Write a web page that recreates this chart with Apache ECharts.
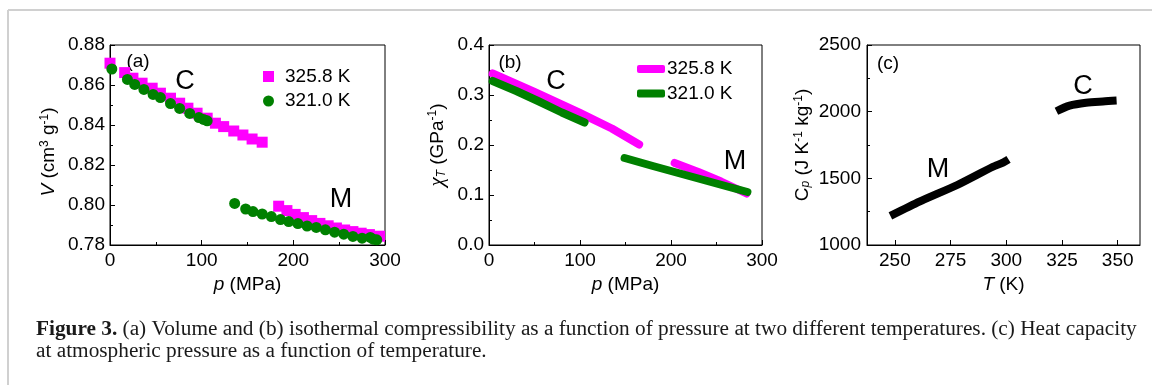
<!DOCTYPE html>
<html><head><meta charset="utf-8">
<script src="https://cdn.jsdelivr.net/npm/echarts@6/dist/echarts.min.js"></script>
<style>html,body{margin:0;padding:0;background:#fff}#c{width:1152px;height:385px}</style>
</head><body><div id="c"></div>
<script>
// ---- Panel (a): volume vs pressure ----
const aPinkP = [0,16,25,35,46,55,66,76,85,95,106,115,124,135,145,155,166, 184,193,202,211,220,229,238,247,256,265,274,283,294];
const aPinkV = [0.8709,0.8662,0.8634,0.8609,0.8584,0.8559,0.8534,0.8509,0.8484,0.8459,0.8434,0.8409,0.8392,0.8370,0.8350,0.8330,0.8314, 0.7994,0.7972,0.7953,0.7937,0.7922,0.7908,0.7896,0.7885,0.7875,0.7867,0.7859,0.7852,0.7844];
const aGreenP = [2,19,27,37,47,55,66,76,87,97,102,106, 136,148,156,166,176,186,195,205,215,225,235,245,255,265,275,284,287,291];
const aGreenV = [0.8680,0.8628,0.8603,0.8578,0.8553,0.8537,0.8507,0.8483,0.8458,0.8437,0.8428,0.8421, 0.8008,0.7980,0.7967,0.7955,0.7942,0.7927,0.7917,0.7907,0.7895,0.7888,0.7876,0.7864,0.7854,0.7843,0.7834,0.7838,0.7829,0.7826];
// ---- Panel (b): compressibility vs pressure ----
const bPinkCP = [4,50,100,135,165];
const bPinkCX = [0.343,0.306,0.264,0.233,0.201];
const bPinkMP = [204,230,255,283];
const bPinkMX = [0.164,0.146,0.127,0.103];
const bGreenCP = [4,30,55,80,105];
const bGreenCX = [0.328,0.308,0.287,0.265,0.245];
const bGreenMP = [149,180,210,240,284];
const bGreenMX = [0.174,0.158,0.143,0.128,0.106];
// ---- Panel (c): heat capacity vs temperature ----
const cMT = [248,261,278,294,298.5,301];
const cMCp = [1218,1325,1450,1587,1617,1642];
const cCT = [322.5,328.4,335.8,343.3,349.5];
const cCCp = [2003,2045,2067,2077,2083];
// ---- tick labels ----
const tLabelsC = [250,275,300,325,350];
const seriesNames = ['325.8 K','321.0 K'];

const zip = (xs, ys) => xs.map((x, i) => [x, ys[i]]);
const FF = '"Liberation Sans", Arial, sans-serif';
const SERIF = '"Liberation Serif", serif';
const PINK = '#ff00ff', GREEN = '#008000';

function axisBase(extra) {
  return Object.assign({
    axisLine: {show: true, onZero: false, lineStyle: {color: '#000', width: 1}},
    axisTick: {show: true, inside: true, length: 5, lineStyle: {color: '#000'}},
    minorTick: {show: true, splitNumber: 2, length: 3, lineStyle: {color: '#000'}},
    splitLine: {show: false},
    axisLabel: {color: '#000', fontSize: 19, fontFamily: FF, margin: 6},
    nameLocation: 'middle',
    nameTextStyle: {color: '#000', fontSize: 19, fontFamily: FF}
  }, extra);
}
const richName = {
  i: {fontStyle: 'italic', fontSize: 19, fontFamily: FF, color: '#000'},
  s: {fontStyle: 'italic', fontSize: 21, fontFamily: SERIF, color: '#000'},
  sup: {fontSize: 12, fontFamily: FF, verticalAlign: 'top', color: '#000'},
  sub: {fontSize: 12, fontFamily: FF, fontStyle: 'italic', verticalAlign: 'bottom', color: '#000'}
};

const chart = echarts.init(document.getElementById('c'), null, {renderer: 'canvas'});
const gridCommon = {show: true, borderColor: '#000', borderWidth: 1, backgroundColor: 'transparent', top: 45, height: 200};
chart.setOption({
  animation: false,
  grid: [
    Object.assign({left: 110, width: 275}, gridCommon),
    Object.assign({left: 489, width: 273}, gridCommon),
    Object.assign({left: 867, width: 273}, gridCommon)
  ],
  xAxis: [
    axisBase({gridIndex: 0, type: 'value', min: 0, max: 300, interval: 100, name: '{i|p} (MPa)', nameGap: 27,
      nameTextStyle: {color: '#000', fontSize: 19, fontFamily: FF, rich: richName}}),
    axisBase({gridIndex: 1, type: 'value', min: 0, max: 300, interval: 100, name: '{i|p} (MPa)', nameGap: 27,
      nameTextStyle: {color: '#000', fontSize: 19, fontFamily: FF, rich: richName}}),
    axisBase({gridIndex: 2, type: 'value', min: 237.5, max: 360, name: '{i|T} (K)', nameGap: 27,
      minorTick: {show: false},
      axisTick: {show: true, inside: true, length: 5, lineStyle: {color: '#000'}, customValues: tLabelsC},
      axisLabel: {color: '#000', fontSize: 19, fontFamily: FF, margin: 6, customValues: tLabelsC, formatter: v => String(v)},
      nameTextStyle: {color: '#000', fontSize: 19, fontFamily: FF, rich: richName}})
  ],
  yAxis: [
    axisBase({gridIndex: 0, type: 'value', min: 0.78, max: 0.88, interval: 0.02, name: '{i|V} (cm{sup|3} g{sup|-1})', nameGap: 52,
      axisLabel: {color: '#000', fontSize: 19, fontFamily: FF, margin: 5, formatter: v => v.toFixed(2)},
      nameTextStyle: {color: '#000', fontSize: 19, fontFamily: FF, rich: richName, padding: [0, 14, 0, 0]}}),
    axisBase({gridIndex: 1, type: 'value', min: 0, max: 0.4, interval: 0.1, name: '{s|χ}{sub|T} (GPa{sup|-1})', nameGap: 41,
      axisLabel: {color: '#000', fontSize: 19, fontFamily: FF, margin: 5, formatter: v => v.toFixed(1)},
      nameTextStyle: {color: '#000', fontSize: 19, fontFamily: FF, rich: richName}}),
    axisBase({gridIndex: 2, type: 'value', min: 1000, max: 2500, interval: 500, name: 'C{sub|p} (J K{sup|-1} kg{sup|-1})', nameGap: 55,
      axisLabel: {color: '#000', fontSize: 19, fontFamily: FF, margin: 6, formatter: v => String(v)},
      nameTextStyle: {color: '#000', fontSize: 19, fontFamily: FF, rich: richName}})
  ],
  legend: [
    {data: [{name: seriesNames[0], icon: 'rect'}, {name: seriesNames[1], icon: 'circle'}], selectedMode: false,
      left: 263, top: 65.5, orient: 'vertical', itemWidth: 11, itemHeight: 11, itemGap: 2.5, padding: 0,
      textStyle: {color: '#000', fontSize: 19, fontFamily: FF, lineHeight: 22, padding: [0, 0, 0, 6]}},
    {data: [{name: seriesNames[0], icon: 'roundRect'}, {name: seriesNames[1], icon: 'roundRect'}], selectedMode: false,
      left: 637, top: 58, orient: 'vertical', itemWidth: 28, itemHeight: 8, itemGap: 2.5, padding: 0,
      textStyle: {color: '#000', fontSize: 19, fontFamily: FF, lineHeight: 22, padding: [0, 0, 0, -3]}}
  ],
  series: [
    {name: seriesNames[0], type: 'scatter', xAxisIndex: 0, yAxisIndex: 0, symbol: 'rect', symbolSize: 11,
      itemStyle: {color: PINK, opacity: 1}, data: zip(aPinkP, aPinkV)},
    {name: seriesNames[1], type: 'scatter', xAxisIndex: 0, yAxisIndex: 0, symbol: 'circle', symbolSize: 11,
      itemStyle: {color: GREEN, opacity: 1}, data: zip(aGreenP, aGreenV)},
    {name: seriesNames[0], type: 'line', xAxisIndex: 1, yAxisIndex: 1, showSymbol: false, symbol: 'none',
      itemStyle: {color: PINK}, lineStyle: {color: PINK, width: 8, cap: 'round', join: 'round'}, data: zip(bPinkCP, bPinkCX)},
    {name: seriesNames[0], type: 'line', xAxisIndex: 1, yAxisIndex: 1, showSymbol: false, symbol: 'none',
      itemStyle: {color: PINK}, lineStyle: {color: PINK, width: 8, cap: 'round', join: 'round'}, data: zip(bPinkMP, bPinkMX)},
    {name: seriesNames[1], type: 'line', xAxisIndex: 1, yAxisIndex: 1, showSymbol: false, symbol: 'none',
      itemStyle: {color: GREEN}, lineStyle: {color: GREEN, width: 8, cap: 'round', join: 'round'}, data: zip(bGreenCP, bGreenCX)},
    {name: seriesNames[1], type: 'line', xAxisIndex: 1, yAxisIndex: 1, showSymbol: false, symbol: 'none',
      itemStyle: {color: GREEN}, lineStyle: {color: GREEN, width: 8, cap: 'round', join: 'round'}, data: zip(bGreenMP, bGreenMX)},
    {name: 'Cp M', type: 'line', xAxisIndex: 2, yAxisIndex: 2, showSymbol: false, symbol: 'none', smooth: 0.2,
      lineStyle: {color: '#000', width: 8, cap: 'butt', join: 'round'}, data: zip(cMT, cMCp)},
    {name: 'Cp C', type: 'line', xAxisIndex: 2, yAxisIndex: 2, showSymbol: false, symbol: 'none', smooth: 0.3,
      lineStyle: {color: '#000', width: 8, cap: 'butt', join: 'round'}, data: zip(cCT, cCCp)}
  ],
  graphic: [
    {type: 'line', silent: true, shape: {x1: 8, y1: 10, x2: 1152, y2: 10}, style: {stroke: '#d0d0d0', lineWidth: 2}},
    {type: 'line', silent: true, shape: {x1: 8, y1: 10, x2: 8, y2: 385}, style: {stroke: '#d0d0d0', lineWidth: 2}},
    {type: 'text', x: 138, y: 62, style: {text: '(a)', fontSize: 19, fontFamily: FF, fill: '#000', align: 'center', verticalAlign: 'middle'}},
    {type: 'text', x: 185, y: 82, style: {text: 'C', fontSize: 27, fontFamily: FF, fill: '#000', align: 'center', verticalAlign: 'middle'}},
    {type: 'text', x: 341, y: 200, style: {text: 'M', fontSize: 27, fontFamily: FF, fill: '#000', align: 'center', verticalAlign: 'middle'}},
    {type: 'text', x: 510, y: 63, style: {text: '(b)', fontSize: 19, fontFamily: FF, fill: '#000', align: 'center', verticalAlign: 'middle'}},
    {type: 'text', x: 556, y: 82, style: {text: 'C', fontSize: 27, fontFamily: FF, fill: '#000', align: 'center', verticalAlign: 'middle'}},
    {type: 'text', x: 735, y: 162, style: {text: 'M', fontSize: 27, fontFamily: FF, fill: '#000', align: 'center', verticalAlign: 'middle'}},
    {type: 'text', x: 888, y: 64, style: {text: '(c)', fontSize: 19, fontFamily: FF, fill: '#000', align: 'center', verticalAlign: 'middle'}},
    {type: 'text', x: 1083, y: 87, style: {text: 'C', fontSize: 27, fontFamily: FF, fill: '#000', align: 'center', verticalAlign: 'middle'}},
    {type: 'text', x: 938, y: 170, style: {text: 'M', fontSize: 27, fontFamily: FF, fill: '#000', align: 'center', verticalAlign: 'middle'}},
    {type: 'text', x: 36, y: 330, scaleX: 1.065, style: {
      text: '{b|Figure 3.} (a) Volume and (b) isothermal compressibility as a function of pressure at two different temperatures. (c) Heat capacity',
      fontSize: 20, fontFamily: SERIF, fill: '#1a1a1a', align: 'left', verticalAlign: 'middle',
      rich: {b: {fontWeight: 'bold', fontSize: 20, fontFamily: SERIF, fill: '#1a1a1a'}}}},
    {type: 'text', x: 36, y: 352, scaleX: 1.065, style: {
      text: 'at atmospheric pressure as a function of temperature.',
      fontSize: 20, fontFamily: SERIF, fill: '#1a1a1a', align: 'left', verticalAlign: 'middle'}}
  ]
});
</script></body></html>
